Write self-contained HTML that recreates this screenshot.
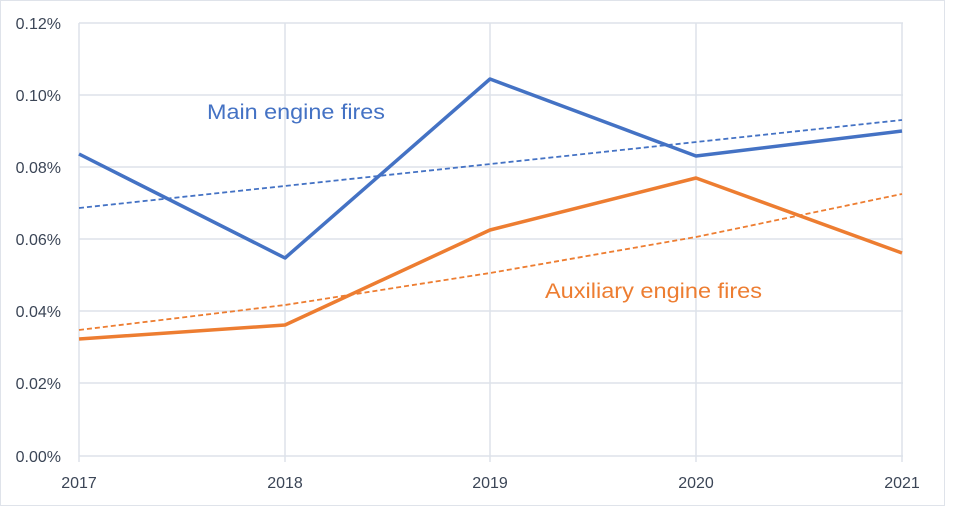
<!DOCTYPE html>
<html><head><style>
body{margin:0;background:#fff;}
svg text{font-family:"Liberation Sans",sans-serif;}
</style></head><body>
<svg width="955" height="526" xmlns="http://www.w3.org/2000/svg">
<rect x="0.5" y="0.5" width="944" height="505" fill="#fff" stroke="#dfe3ea"/>
<g stroke="#dde2ea" stroke-width="1.5" fill="none">
<line x1="79" y1="23" x2="903" y2="23"/>
<line x1="79" y1="95" x2="903" y2="95"/>
<line x1="79" y1="167" x2="903" y2="167"/>
<line x1="79" y1="239" x2="903" y2="239"/>
<line x1="79" y1="311" x2="903" y2="311"/>
<line x1="79" y1="383" x2="903" y2="383"/>
<line x1="79" y1="456" x2="903" y2="456"/>
<line x1="79" y1="23" x2="79" y2="462"/>
<line x1="285" y1="23" x2="285" y2="462"/>
<line x1="490" y1="23" x2="490" y2="462"/>
<line x1="696" y1="23" x2="696" y2="462"/>
<line x1="902" y1="23" x2="902" y2="462"/>
</g>
<g font-size="16" fill="#3b4556" text-anchor="end">
<text x="61" y="29">0.12%</text>
<text x="61" y="101">0.10%</text>
<text x="61" y="173">0.08%</text>
<text x="61" y="245">0.06%</text>
<text x="61" y="317">0.04%</text>
<text x="61" y="389">0.02%</text>
<text x="61" y="462">0.00%</text>
</g>
<g font-size="16" fill="#3b4556" text-anchor="middle">
<text x="79" y="488">2017</text>
<text x="285" y="488">2018</text>
<text x="490" y="488">2019</text>
<text x="696" y="488">2020</text>
<text x="902" y="488">2021</text>
</g>
<polyline points="79,208 902,120" stroke="#4472c4" stroke-width="1.8" stroke-dasharray="5,3" fill="none"/>
<polyline points="79,330 285,305 490,273 696,237 902,194" stroke="#ed7d31" stroke-width="1.8" stroke-dasharray="5,3" fill="none"/>
<polyline points="79,154 285,258 490,79 696,156 902,131" stroke="#4472c4" stroke-width="3.5" fill="none" stroke-linejoin="round"/>
<polyline points="79,339 285,325 490,230 696,178 902,253" stroke="#ed7d31" stroke-width="3.5" fill="none" stroke-linejoin="round"/>
<text x="207" y="119" font-size="21" fill="#4472c4" textLength="178" lengthAdjust="spacingAndGlyphs">Main engine fires</text>
<text x="545" y="298" font-size="21" fill="#ed7d31" textLength="217" lengthAdjust="spacingAndGlyphs">Auxiliary engine fires</text>
</svg>
</body></html>
